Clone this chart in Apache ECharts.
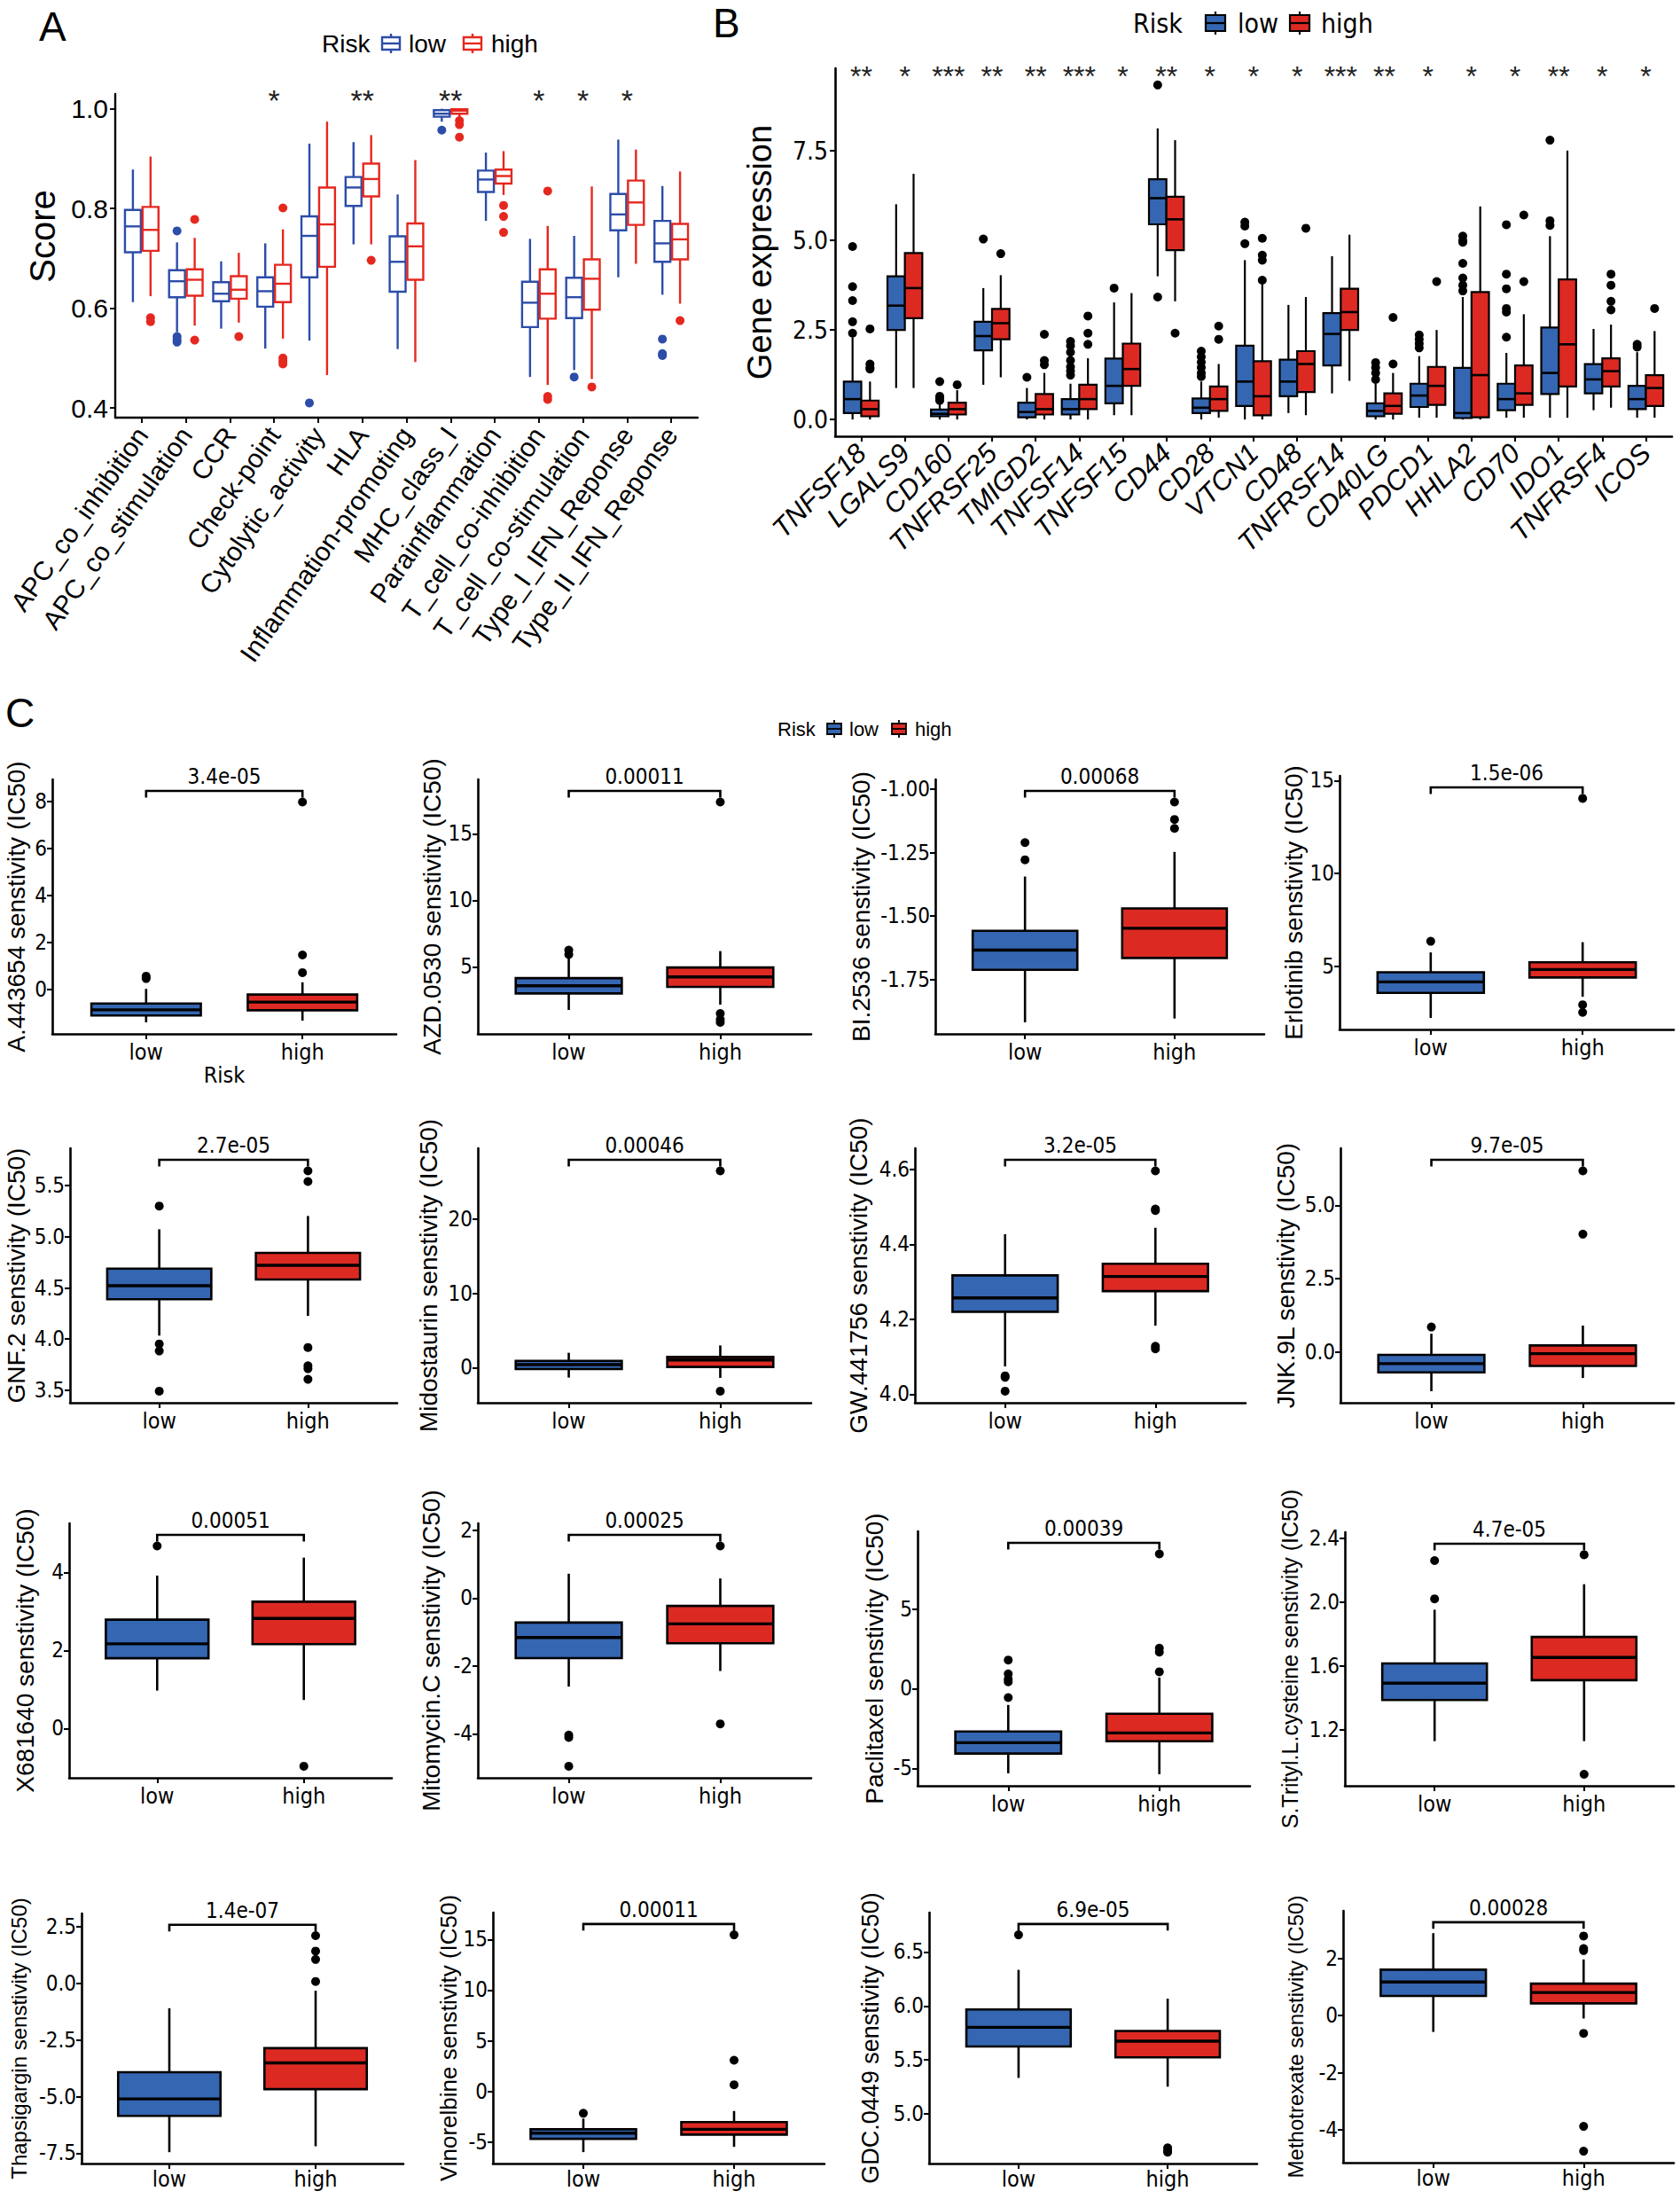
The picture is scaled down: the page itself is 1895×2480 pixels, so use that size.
<!DOCTYPE html>
<html><head><meta charset="utf-8">
<script src="https://cdn.jsdelivr.net/npm/echarts@6/dist/echarts.min.js"></script>
<style>html,body{margin:0;padding:0;background:#fff}#c{width:1895px;height:2480px}</style>
</head><body><div id="c"></div>
<script>
// ---------------- DATA ----------------
// Panel A : immune function scores   [lowerWhisker, Q1, median, Q3, upperWhisker]
const aCats = ['APC_co_inhibition','APC_co_stimulation','CCR','Check-point','Cytolytic_activity','HLA','Inflammation-promoting','MHC_class_I','Parainflammation','T_cell_co-inhibition','T_cell_co-stimulation','Type_I_IFN_Reponse','Type_II_IFN_Reponse'];
const aLow = [[0.612,0.712,0.764,0.797,0.878],[0.552,0.622,0.654,0.676,0.732],[0.559,0.614,0.629,0.652,0.694],[0.519,0.603,0.634,0.662,0.730],[0.535,0.662,0.745,0.784,0.930],[0.728,0.805,0.842,0.863,0.933],[0.518,0.633,0.693,0.744,0.828],[0.974,0.984,0.990,0.997,1.000],[0.775,0.833,0.858,0.876,0.912],[0.462,0.562,0.611,0.653,0.739],[0.476,0.580,0.622,0.661,0.745],[0.662,0.756,0.788,0.829,0.938],[0.627,0.693,0.730,0.775,0.845]];
const aHigh = [[0.624,0.715,0.757,0.803,0.904],[0.565,0.625,0.657,0.678,0.741],[0.571,0.619,0.637,0.664,0.711],[0.539,0.612,0.649,0.687,0.758],[0.466,0.683,0.768,0.842,0.974],[0.728,0.824,0.859,0.890,0.947],[0.492,0.657,0.724,0.770,0.897],[0.983,0.990,0.996,0.999,1.000],[0.827,0.850,0.865,0.878,0.915],[0.446,0.579,0.629,0.678,0.765],[0.458,0.597,0.659,0.698,0.844],[0.689,0.767,0.812,0.856,0.918],[0.609,0.698,0.738,0.769,0.874]];
const aLowOut = [[],[0.755,0.543,0.537,0.532],[],[],[0.410],[],[],[0.957],[],[],[0.462],[],[0.538,0.509,0.505]];
const aHighOut = [[0.581,0.573],[0.778,0.536],[0.543],[0.801,0.500,0.494,0.488],[],[0.696],[],[0.976,0.968,0.943],[0.806,0.784,0.752],[0.835,0.423,0.417],[0.442],[],[0.575]];
const aSig = ['','','','*','','**','','**','','*','*','*',''];
const aTicks = [0.4,0.6,0.8,1.0];
const aTickLabels = ['0.4','0.6','0.8','1.0'];

// Panel B : immune checkpoint gene expression
const bCats = ['TNFSF18','LGALS9','CD160','TNFRSF25','TMIGD2','TNFSF14','TNFSF15','CD44','CD28','VTCN1','CD48','TNFRSF14','CD40LG','PDCD1','HHLA2','CD70','IDO1','TNFRSF4','ICOS'];
const bLow = [[0,0.18,0.57,1.06,2.30],[0.88,2.50,3.18,4.00,6.01],[0,0.09,0.16,0.28,0.50],[0.97,1.93,2.33,2.73,3.67],[0,0.06,0.21,0.47,0.88],[0,0.14,0.29,0.57,1.00],[0.12,0.45,0.94,1.70,3.27],[4.00,5.45,6.18,6.71,8.13],[0,0.18,0.33,0.59,1.06],[0,0.38,1.06,2.06,4.45],[0.18,0.65,1.06,1.67,3.20],[0.73,1.51,2.39,2.97,4.56],[0,0.09,0.24,0.45,1.00],[0.05,0.35,0.67,1.00,1.77],[0,0.04,0.18,1.44,3.42],[0.05,0.26,0.57,1.00,1.86],[0.05,0.71,1.30,2.57,5.12],[0.26,0.73,1.12,1.55,2.53],[0.05,0.29,0.57,0.94,1.88]];
const bHigh = [[0,0.09,0.29,0.53,1.06],[0.88,2.83,3.67,4.65,6.86],[0,0.14,0.29,0.47,0.82],[1.18,2.24,2.69,3.09,4.03],[0,0.14,0.29,0.71,1.30],[0,0.29,0.57,0.97,1.71],[0.12,0.94,1.41,2.12,3.53],[3.30,4.73,5.59,6.22,7.80],[0.05,0.24,0.57,0.92,1.55],[0,0.12,0.65,1.63,3.83],[0.12,0.77,1.55,1.91,3.42],[1.08,2.50,3.00,3.65,5.16],[0,0.16,0.38,0.73,1.30],[0.05,0.41,0.94,1.47,2.50],[0,0.06,1.24,3.56,5.95],[0.05,0.41,0.73,1.51,2.94],[0.05,0.92,2.10,3.91,7.51],[0.33,0.92,1.35,1.71,2.65],[0.05,0.38,0.88,1.24,2.47]];
const bLowOut = [[4.83,3.71,3.32,2.73,2.41],[],[1.06,0.65,0.59,0.53],[5.04],[1.18],[2.18,2.06,1.88,1.65,1.47,1.35,1.24],[3.67],[9.34,3.42],[1.91,1.75,1.60,1.45,1.30,1.20],[5.51,5.40,4.91],[],[],[1.59,1.45,1.30,1.12],[2.36,2.24,2.12,2.00],[5.12,5.00,4.95,4.36,3.95,3.75,3.59],[5.44,4.06,3.65,3.10,3.00,2.30],[7.80,5.55,5.42],[],[2.10,2.02]];
const bHighOut = [[2.53,1.55,1.45,1.41],[],[0.97],[4.63],[2.38,1.65,1.53],[2.89,2.41,2.10],[],[2.41],[2.61,2.24],[5.06,4.59,4.45,3.89],[5.34],[],[2.85,1.55],[3.85],[],[5.71,3.85],[],[4.06,3.75,3.30,3.06],[3.10]];
const bSig = ['**','*','***','**','**','***','*','**','*','*','*','***','**','*','*','*','**','*','*'];
const bTicks = [0,2.5,5,7.5];
const bTickLabels = ['0.0','2.5','5.0','7.5'];

// Panel C : drug sensitivity (IC50)
const riskGroups = ['low','high'];
const drugs = ['A.443654','AZD.0530','BI.2536','Erlotinib','GNF.2','Midostaurin','GW.441756','JNK.9L','X681640','Mitomycin.C','Paclitaxel','S.Trityl.L.cysteine','Thapsigargin','Vinorelbine','GDC.0449','Methotrexate'];
const pValues = ['3.4e-05','0.00011','0.00068','1.5e-06','2.7e-05','0.00046','3.2e-05','9.7e-05','0.00051','0.00025','0.00039','4.7e-05','1.4e-07','0.00011','6.9e-05','0.00028'];
const cLow = [[-1.39,-1.10,-0.86,-0.59,0.03],[1.77,3.01,3.58,4.16,5.71],[-1.919,-1.712,-1.634,-1.558,-1.344],[2.22,3.57,4.16,4.68,5.75],[4.034,4.389,4.522,4.689,5.073],[-1.35,-0.20,0.40,0.91,1.99],[4.074,4.220,4.257,4.317,4.427],[-1.34,-0.70,-0.40,-0.10,0.62],[0.97,1.80,2.17,2.79,3.92],[-2.61,-1.77,-1.16,-0.72,0.72],[-5.31,-4.07,-3.39,-2.69,-1.02],[1.128,1.386,1.491,1.615,1.952],[-7.45,-5.85,-5.10,-3.92,-1.10],[-5.99,-4.68,-4.12,-3.74,-2.68],[5.334,5.625,5.802,5.967,6.334],[-0.57,0.69,1.18,1.61,2.89]];
const cHigh = [[-1.32,-0.88,-0.53,-0.21,0.31],[2.17,3.50,4.25,4.96,6.19],[-1.904,-1.665,-1.548,-1.470,-1.247],[3.36,4.40,4.83,5.22,6.30],[4.227,4.582,4.721,4.842,5.203],[-1.39,0.08,1.03,1.43,2.98],[4.183,4.275,4.314,4.348,4.444],[-0.89,-0.48,-0.06,0.22,0.90],[0.73,2.16,2.82,3.25,4.38],[-2.15,-1.33,-0.76,-0.23,0.58],[-5.37,-3.30,-2.78,-1.57,0.70],[1.128,1.510,1.653,1.781,2.112],[-7.19,-4.67,-3.51,-2.86,-0.33],[-5.47,-4.26,-3.74,-3.02,-1.93],[5.253,5.524,5.674,5.769,6.068],[-0.10,0.43,0.81,1.12,1.97]];
const cLowOut = [[0.57,0.47],[6.26,5.93],[-1.21,-1.278],[6.35],[5.30,3.953,3.884,3.491],[],[4.049,4.045,4.008],[0.85],[4.68],[-4.04,-4.11,-4.96],[1.80,0.93,0.60,0.43,-0.56],[2.26,2.02],[],[-2.16],[6.658],[]];
const cHighOut = [[0.72,1.47,7.97],[1.50,1.06,0.84,17.39],[-1.05,-1.119,-1.154],[2.93,2.52,14.05],[5.644,5.540,3.918,3.740,3.711,3.607],[-3.18,26.48],[4.596,4.494,4.490,4.128,4.121],[4.02,6.18],[-0.97],[1.54,-3.71],[1.06,2.30,2.54,8.46],[2.297,0.92],[0.08,1.05,1.42,2.10],[0.66,3.08,15.45],[4.687,4.647,4.66],[2.79,2.35,2.28,-0.62,-3.88,-4.75]];
const cTicks = [[0,2,4,6,8],[5,10,15],[-1.75,-1.5,-1.25,-1.0],[5,10,15],[3.5,4.0,4.5,5.0,5.5],[0,10,20],[4.0,4.2,4.4,4.6],[0,2.5,5],[0,2,4],[-4,-2,0,2],[-5,0,5],[1.2,1.6,2.0,2.4],[-7.5,-5,-2.5,0,2.5],[-5,0,5,10,15],[5.0,5.5,6.0,6.5],[-4,-2,0,2]];
const cTickLabels = [['0','2','4','6','8'],['5','10','15'],['-1.75','-1.50','-1.25','-1.00'],['5','10','15'],['3.5','4.0','4.5','5.0','5.5'],['0','10','20'],['4.0','4.2','4.4','4.6'],['0.0','2.5','5.0'],['0','2','4'],['-4','-2','0','2'],['-5','0','5'],['1.2','1.6','2.0','2.4'],['-7.5','-5.0','-2.5','0.0','2.5'],['-5','0','5','10','15'],['5.0','5.5','6.0','6.5'],['-4','-2','0','2']];

// ---------------- STYLE / LAYOUT ----------------
const SANS = '"Liberation Sans", Arial, Helvetica, sans-serif';
const NARROW = '"Liberation Sans Narrow", "Arial Narrow", "DejaVu Sans Condensed", sans-serif';
const A_BLUE = '#2C4DA8', A_RED = '#E5281F';
const F_BLUE = '#3566B1', F_RED = '#DC2A23';
// [left, top, right, bottom, nameGap]
const cLayout = [
  [59,879,447,1166,27],[539,879,915,1166,37],[1055,879,1426,1166,70],[1511,875,1888,1161,36],
  [79,1295,448,1582,49],[539,1295,915,1582,42],[1032,1295,1405,1582,50],[1512,1295,1888,1582,48],
  [78,1718,442,2005,36],[539,1718,915,2005,39],[1035,1727,1410,2014,35],[1517,1728,1888,2014,50],
  [92,2158,455,2440,59],[556,2157,930,2440,36],[1048,2157,1418,2440,53],[1515,2155,1888,2439,42]
];

const measureCtx = document.createElement('canvas').getContext('2d');
function fitFont(text, base, maxLen, family) {
  measureCtx.font = base + 'px ' + family;
  const w = measureCtx.measureText(text).width;
  return w > maxLen ? Math.floor(base * maxLen / w) : base;
}

const grids = [], xAxes = [], yAxes = [], series = [], graphics = [];

function nearestLabel(vals, labels) {
  return function (v) {
    let best = 0;
    for (let i = 1; i < vals.length; i++) if (Math.abs(vals[i] - v) < Math.abs(vals[best] - v)) best = i;
    return labels[best];
  };
}

function boxRenderer(stroke, fill, lw, medW, halfW) {
  return function (params, api) {
    const x = api.value(0);
    const lo = api.value(1), q1 = api.value(2), md = api.value(3), q3 = api.value(4), hi = api.value(5);
    const a = api.coord([x - halfW, q3]);
    const b = api.coord([x + halfW, q1]);
    const c = api.coord([x, md]);
    const t = api.coord([x, hi]);
    const d = api.coord([x, lo]);
    const ls = { stroke: stroke, lineWidth: lw, fill: null };
    return {
      type: 'group', children: [
        { type: 'line', shape: { x1: c[0], y1: t[1], x2: c[0], y2: a[1] }, style: ls },
        { type: 'line', shape: { x1: c[0], y1: b[1], x2: c[0], y2: d[1] }, style: ls },
        { type: 'rect', shape: { x: a[0], y: a[1], width: b[0] - a[0], height: b[1] - a[1] }, style: { fill: fill, stroke: stroke, lineWidth: lw } },
        { type: 'line', shape: { x1: a[0], y1: c[1], x2: b[0], y2: c[1] }, style: { stroke: stroke, lineWidth: medW } }
      ]
    };
  };
}

function axisCommon(lw) {
  return {
    axisLine: { show: true, onZero: false, lineStyle: { color: '#000', width: lw } },
    axisTick: { show: true, length: 6, lineStyle: { color: '#000', width: lw * 0.8 } },
    splitLine: { show: false }
  };
}

// ---------- grouped panels (A, B) ----------
function groupedPanel(p) {
  const gi = grids.length;
  grids.push({ left: p.left, top: p.top, width: p.width, height: p.height, containLabel: false, outerBoundsMode: 'none' });
  const n = p.cats.length;
  const all = [];
  p.low.concat(p.high).forEach(s => all.push(...s));
  p.lowOut.concat(p.highOut).forEach(o => all.push(...o));
  const mn = Math.min(...all), mx = Math.max(...all), r = mx - mn;
  const idx = p.cats.map((c, i) => i);
  xAxes.push(Object.assign({
    gridIndex: gi, type: 'value', min: -0.6, max: n - 0.4,
    axisLabel: { customValues: idx, formatter: v => p.cats[Math.round(v)], rotate: p.rot, margin: 14,
      color: '#000', fontSize: p.xFont, fontFamily: SANS, fontStyle: p.italic ? 'italic' : 'normal' }
  }, axisCommon(p.lw)));
  xAxes[xAxes.length - 1].axisTick.customValues = idx;
  yAxes.push(Object.assign({
    gridIndex: gi, type: 'value', min: mn - 0.05 * r, max: mx + 0.05 * r,
    name: p.yName, nameLocation: 'middle', nameGap: p.nameGap,
    nameTextStyle: { fontSize: p.nameFont, fontFamily: SANS, color: '#000', padding: p.namePad || 0 },
    axisLabel: { customValues: p.ticks, formatter: nearestLabel(p.ticks, p.tickLabels), margin: 8,
      color: '#000', fontSize: p.yFont, fontFamily: p.yFamily }
  }, axisCommon(p.lw)));
  yAxes[yAxes.length - 1].axisTick.customValues = p.ticks;

  const groups = [
    { stats: p.low, out: p.lowOut, off: -0.2, color: p.colors[0] },
    { stats: p.high, out: p.highOut, off: 0.2, color: p.colors[1] }
  ];
  groups.forEach(g => {
    series.push({
      type: 'custom', xAxisIndex: gi, yAxisIndex: gi,
      renderItem: p.filled ? boxRenderer('#000', g.color, p.boxLw, p.medLw, p.halfW) : boxRenderer(g.color, '#fff', p.boxLw, p.medLw, p.halfW),
      encode: { x: 0, y: [1, 2, 3, 4, 5] },
      data: g.stats.map((s, i) => [i + g.off].concat(s)),
      silent: true, z: 2
    });
    const pts = [];
    g.out.forEach((arr, i) => arr.forEach(v => pts.push([i + g.off, v])));
    series.push({
      type: 'scatter', xAxisIndex: gi, yAxisIndex: gi, data: pts,
      symbolSize: p.dot, itemStyle: { color: p.filled ? '#000' : g.color, opacity: 1 },
      silent: true, z: 3
    });
  });
  // significance marks
  const sy = mx + p.starFrac * r;
  series.push({
    type: 'custom', xAxisIndex: gi, yAxisIndex: gi, silent: true, z: 4,
    data: p.sig.map((s, i) => [i, sy]),
    encode: { x: 0, y: 1 },
    renderItem: function (params, api) {
      const pt = api.coord([api.value(0), api.value(1)]);
      return { type: 'text', x: pt[0], y: pt[1], style: { text: p.sig[params.dataIndex], fill: '#222',
        fontSize: p.starFont, fontFamily: SANS, align: 'center', verticalAlign: 'middle', textAlign: 'center', textVerticalAlign: 'middle' } };
    }
  });
}

groupedPanel({
  cats: aCats, low: aLow, high: aHigh, lowOut: aLowOut, highOut: aHighOut, sig: aSig,
  ticks: aTicks, tickLabels: aTickLabels,
  left: 130, top: 106, width: 657, height: 365,
  colors: [A_BLUE, A_RED], filled: false, halfW: 0.18, boxLw: 2.4, medLw: 2.4, dot: 10, lw: 2.4,
  xFont: 30, rot: 55, yFont: 30, yFamily: SANS, italic: false,
  yName: 'Score', nameGap: 62, nameFont: 40, namePad: [0, 0, 0, 44], starFrac: 0.028, starFont: 34
});
groupedPanel({
  cats: bCats, low: bLow, high: bHigh, lowOut: bLowOut, highOut: bHighOut, sig: bSig,
  ticks: bTicks, tickLabels: bTickLabels,
  left: 942, top: 77, width: 944, height: 415,
  colors: [F_BLUE, F_RED], filled: true, halfW: 0.2, boxLw: 2.2, medLw: 2.6, dot: 10, lw: 2.6,
  xFont: 31, rot: 45, yFont: 28, yFamily: NARROW, italic: true,
  yName: 'Gene expression', nameGap: 66, nameFont: 38, starFrac: 0.026, starFont: 32
});

// ---------- drug panels (C) ----------
drugs.forEach((drug, k) => {
  const L = cLayout[k];
  const gi = grids.length;
  grids.push({ left: L[0], top: L[1], width: L[2] - L[0], height: L[3] - L[1], containLabel: false, outerBoundsMode: 'none' });
  const lo = cLow[k], hi = cHigh[k];
  const all = [].concat(lo, hi, cLowOut[k], cHighOut[k]);
  const mn = Math.min(...all), mx = Math.max(...all), r = mx - mn;
  const br = mx + 0.05 * r, leg = br - 0.03 * r;
  const r2 = br - mn;
  const title = drug + ' senstivity (IC50)';
  const tFont = fitFont(title, 28, k >= 12 ? 330 : 390, SANS);
  const gap = Math.min(L[4], L[0] - tFont - 4);
  xAxes.push(Object.assign({
    gridIndex: gi, type: 'value', min: 0.4, max: 2.6,
    name: k === 0 ? 'Risk' : '', nameLocation: 'middle', nameGap: 34,
    nameTextStyle: { fontSize: 25, fontFamily: NARROW, color: '#000' },
    axisLabel: { customValues: [1, 2], formatter: v => riskGroups[Math.round(v) - 1], margin: k >= 12 ? 5 : 8,
      color: '#000', fontSize: 25, fontFamily: NARROW }
  }, axisCommon(2.6)));
  xAxes[xAxes.length - 1].axisTick.customValues = [1, 2];
  yAxes.push(Object.assign({
    gridIndex: gi, type: 'value', min: mn - 0.05 * r2, max: br + 0.05 * r2,
    name: title, nameLocation: 'middle', nameGap: gap,
    nameTextStyle: { fontSize: tFont, fontFamily: SANS, color: '#000' },
    axisLabel: { customValues: cTicks[k], formatter: nearestLabel(cTicks[k], cTickLabels[k]), margin: 6,
      color: '#000', fontSize: 24, fontFamily: NARROW }
  }, axisCommon(2.6)));
  yAxes[yAxes.length - 1].axisTick.customValues = cTicks[k];

  [[lo, cLowOut[k], 1, F_BLUE], [hi, cHighOut[k], 2, F_RED]].forEach(g => {
    series.push({
      type: 'custom', xAxisIndex: gi, yAxisIndex: gi, silent: true, z: 2,
      renderItem: boxRenderer('#000', g[3], 2.6, 3.4, 0.35),
      encode: { x: 0, y: [1, 2, 3, 4, 5] },
      data: [[g[2]].concat(g[0])]
    });
    series.push({
      type: 'scatter', xAxisIndex: gi, yAxisIndex: gi, silent: true, z: 3,
      data: g[1].map(v => [g[2], v]), symbolSize: 10, itemStyle: { color: '#000', opacity: 1 }
    });
  });
  // comparison bracket with p-value
  series.push({
    type: 'custom', xAxisIndex: gi, yAxisIndex: gi, silent: true, z: 4,
    data: [[1, 2, br, leg]], encode: { x: [0, 1], y: [2, 3] },
    renderItem: function (params, api) {
      const p1 = api.coord([api.value(0), api.value(3)]);
      const p2 = api.coord([api.value(0), api.value(2)]);
      const p3 = api.coord([api.value(1), api.value(2)]);
      const p4 = api.coord([api.value(1), api.value(3)]);
      return { type: 'group', children: [
        { type: 'polyline', shape: { points: [p1, p2, p3, p4] }, style: { stroke: '#000', lineWidth: 2.6, fill: null } },
        { type: 'text', x: (p2[0] + p3[0]) / 2, y: p2[1] - 4, style: { text: pValues[k], fill: '#000', fontSize: 24, fontFamily: NARROW,
          align: 'center', verticalAlign: 'bottom', textAlign: 'center', textVerticalAlign: 'bottom' } }
      ] };
    }
  });
});

// ---------- legends & panel letters ----------
function glyph(cx, cy, w, h, fill, stroke, lw) {
  return { type: 'group', x: cx, y: cy, silent: true, children: [
    { type: 'line', shape: { x1: 0, y1: -h / 2 - 4, x2: 0, y2: h / 2 + 4 }, style: { stroke: stroke, lineWidth: lw } },
    { type: 'rect', shape: { x: -w / 2, y: -h / 2, width: w, height: h }, style: { fill: fill, stroke: stroke, lineWidth: lw } },
    { type: 'line', shape: { x1: -w / 2, y1: 0, x2: w / 2, y2: 0 }, style: { stroke: stroke, lineWidth: lw } }
  ] };
}
function txt(x, y, s, size, family, align) {
  return { type: 'text', x: x, y: y, silent: true, style: { text: s, fill: '#000', fontSize: size, fontFamily: family,
    align: align || 'left', verticalAlign: 'middle', textAlign: align || 'left', textVerticalAlign: 'middle' } };
}
graphics.push(txt(44, 30, 'A', 46, SANS));
graphics.push(txt(804, 26, 'B', 46, SANS));
graphics.push(txt(6, 804, 'C', 46, SANS));
// legend A
graphics.push(txt(363, 49, 'Risk', 28, SANS));
graphics.push(glyph(441, 49, 20, 14, '#fff', A_BLUE, 2.4));
graphics.push(txt(461, 49, riskGroups[0], 28, SANS));
graphics.push(glyph(533, 49, 20, 14, '#fff', A_RED, 2.4));
graphics.push(txt(554, 49, riskGroups[1], 28, SANS));
// legend B
graphics.push(txt(1278, 26, 'Risk', 30, NARROW));
graphics.push(glyph(1371, 26, 22, 18, F_BLUE, '#000', 2.2));
graphics.push(txt(1396, 26, riskGroups[0], 30, NARROW));
graphics.push(glyph(1466, 26, 22, 18, F_RED, '#000', 2.2));
graphics.push(txt(1490, 26, riskGroups[1], 30, NARROW));
// legend C
graphics.push(txt(877, 822, 'Risk', 22, SANS));
graphics.push(glyph(941, 822, 16, 12, F_BLUE, '#000', 1.8));
graphics.push(txt(958, 822, riskGroups[0], 22, SANS));
graphics.push(glyph(1014, 822, 16, 12, F_RED, '#000', 1.8));
graphics.push(txt(1032, 822, riskGroups[1], 22, SANS));

const chart = echarts.init(document.getElementById('c'), null, { renderer: 'svg', width: 1895, height: 2480 });
chart.setOption({
  animation: false,
  backgroundColor: '#fff',
  grid: grids, xAxis: xAxes, yAxis: yAxes, series: series,
  graphic: { elements: graphics }
});
</script></body></html>
